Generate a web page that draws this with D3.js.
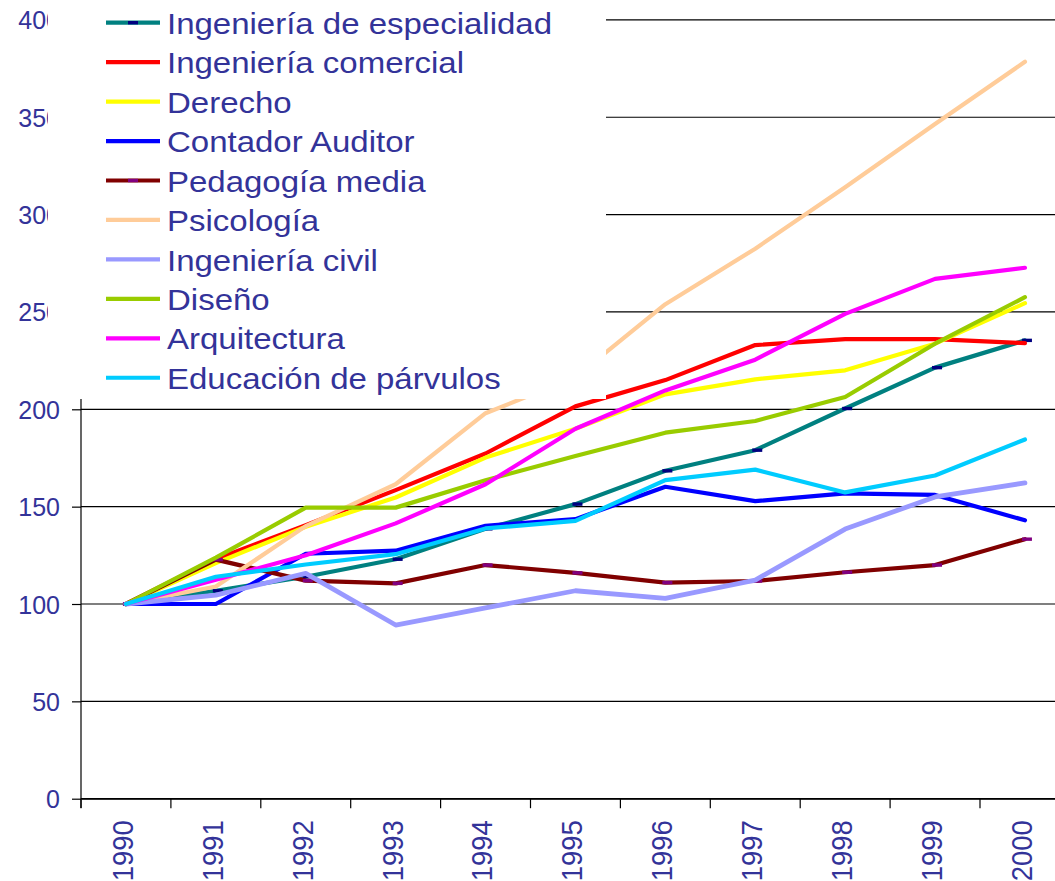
<!DOCTYPE html>
<html>
<head>
<meta charset="utf-8">
<script src="https://cdn.jsdelivr.net/npm/d3@7"></script>
<style>
  html, body { margin: 0; padding: 0; background: #fff; }
  svg { display: block; }
  text { font-family: "Liberation Sans", Arial, sans-serif; }
</style>
</head>
<body>
<svg id="chart" width="1055" height="881"></svg>
<script>
const years = ["1990","1991","1992","1993","1994","1995","1996","1997","1998","1999","2000"];
const yTicks = [0, 50, 100, 150, 200, 250, 300, 350, 400];

const seriesNames = ["Ingeniería de especialidad","Ingeniería comercial","Derecho","Contador Auditor","Pedagogía media","Psicología","Ingeniería civil","Diseño","Arquitectura","Educación de párvulos"];
const seriesColors = ["#008080","#FF0000","#FFFF00","#0000FF","#800000","#FFCC99","#9999FF","#99CC00","#FF00FF","#00CCFF"];

const ingEspecialidad = [100, 106.8, 114, 123, 138.6, 151.3, 168.4, 179, 200.4, 221.4, 235.4];
const ingComercial    = [100, 123, 140.5, 158.5, 177.3, 201.5, 215, 233, 236, 236, 234];
const derecho         = [100, 121, 139.7, 154.7, 175.2, 190, 207.7, 215.4, 220, 233.7, 254.5];
const contadorAuditor = [100, 100, 125.8, 127.4, 140.2, 143.6, 160.2, 152.8, 156.8, 156, 143];
const pedagogiaMedia  = [100, 122.8, 112, 110.6, 120, 116, 111, 111.8, 116.3, 120, 133.3];
const psicologia      = [100, 109, 140, 161.5, 198, 216.5, 254, 282.5, 314, 346.5, 378.5];
const ingCivil        = [100, 104.6, 115.7, 89.2, 98, 106.8, 102.9, 112.3, 138.5, 155, 162.2];
const diseno          = [100, 123.8, 149.5, 149.5, 163.6, 176, 188, 194, 206.3, 233.7, 257.6];
const arquitectura    = [100, 112.5, 125, 141.4, 161.5, 190, 209.7, 225.5, 249, 267, 272.7];
const parvulos        = [100, 114, 120.3, 125.6, 138.8, 142.7, 163.6, 169, 157.3, 166, 184.5];

const seriesValues = [ingEspecialidad, ingComercial, derecho, contadorAuditor, pedagogiaMedia, psicologia, ingCivil, diseno, arquitectura, parvulos];
const markerColors = {0: "#000080", 4: "#800080"};

const textColor = "#333399";
const svg = d3.select("#chart");

const x = d3.scaleBand().domain(years).range([81, 81 + 11 * 89.9]).paddingInner(0).paddingOuter(0);
const y = d3.scaleLinear().domain([0, 400]).range([798.7, 19.9]);
const cx = d => x(d) + x.bandwidth() / 2;

// gridlines
svg.append("g").selectAll("line").data(yTicks).join("line")
  .attr("x1", 81).attr("x2", 1055)
  .attr("y1", d => y(d)).attr("y2", d => y(d))
  .attr("stroke", "#000").attr("stroke-width", 1.2);

// y axis
const yAxis = d3.axisLeft(y).tickValues(yTicks).tickSize(9).tickPadding(12).tickFormat(d3.format("d"));
const gy = svg.append("g").attr("transform", "translate(81,0)").call(yAxis);
gy.select(".domain").attr("stroke", "#000").attr("stroke-width", 1.2).attr("d", "M0,19.9V808");
gy.selectAll(".tick line").attr("stroke", "#000").attr("stroke-width", 1.2);
gy.selectAll(".tick text").attr("fill", textColor).attr("font-size", 25)
  .attr("font-family", "'Liberation Sans', Arial, sans-serif").attr("dy", "0.36em");

// x axis
const xAxis = d3.axisBottom(x).tickSize(0).tickFormat(d => d);
const gx = svg.append("g").attr("transform", "translate(0," + y(0) + ")").call(xAxis);
gx.select(".domain").attr("stroke", "#000").attr("stroke-width", 1.2);
gx.selectAll(".tick text")
  .attr("fill", textColor).attr("font-size", 27.5)
  .attr("font-family", "'Liberation Sans', Arial, sans-serif")
  .attr("text-anchor", "end")
  .attr("transform", "translate(-4,21.5) rotate(-90) scale(1,1.1)")
  .attr("x", 0).attr("y", 0).attr("dy", "0.36em");
// boundary tick marks
const bounds = years.map(d => x(d)).concat([x(years[years.length - 1]) + x.bandwidth()]);
svg.append("g").selectAll("line").data(bounds).join("line")
  .attr("x1", d => d).attr("x2", d => d)
  .attr("y1", y(0)).attr("y2", y(0) + 9.5)
  .attr("stroke", "#000").attr("stroke-width", 1.2);

// lines
const line = d3.line().x((d, i) => cx(years[i])).y(d => y(d));
seriesValues.forEach((vals, s) => {
  svg.append("path").datum(vals)
    .attr("d", line)
    .attr("fill", "none")
    .attr("stroke", seriesColors[s])
    .attr("stroke-width", s === 6 ? 4.8 : 4.2)
    .attr("stroke-linejoin", "round")
    .attr("stroke-linecap", "round");
  if (markerColors[s]) {
    svg.append("g").selectAll("rect").data(vals).join("rect")
      .attr("x", (d, i) => cx(years[i]) - 3)
      .attr("y", d => y(d) - 1.7)
      .attr("width", 10).attr("height", 3.4)
      .attr("fill", markerColors[s]);
  }
});

// legend (white box covering the top-left)
const legend = svg.append("g");
legend.append("rect").attr("x", 48).attr("y", 0).attr("width", 558).attr("height", 399).attr("fill", "#fff");
const rows = legend.selectAll("g.row").data(seriesNames).join("g").attr("class", "row")
  .attr("transform", (d, i) => "translate(0," + (22.7 + i * 39.45) + ")");
rows.append("line").attr("x1", 106).attr("x2", 160).attr("y1", 0).attr("y2", 0)
  .attr("stroke", (d, i) => seriesColors[i]).attr("stroke-width", 4.2);
rows.filter((d, i) => markerColors[i]).append("rect")
  .attr("x", 128).attr("y", -1.7).attr("width", 10).attr("height", 3.4)
  .attr("fill", (d) => markerColors[seriesNames.indexOf(d)]);
rows.append("text").text(d => d)
  .attr("transform", "translate(167,0) scale(1.1,1)")
  .attr("dy", "0.37em")
  .attr("font-size", 30).attr("fill", textColor);
</script>
</body>
</html>
